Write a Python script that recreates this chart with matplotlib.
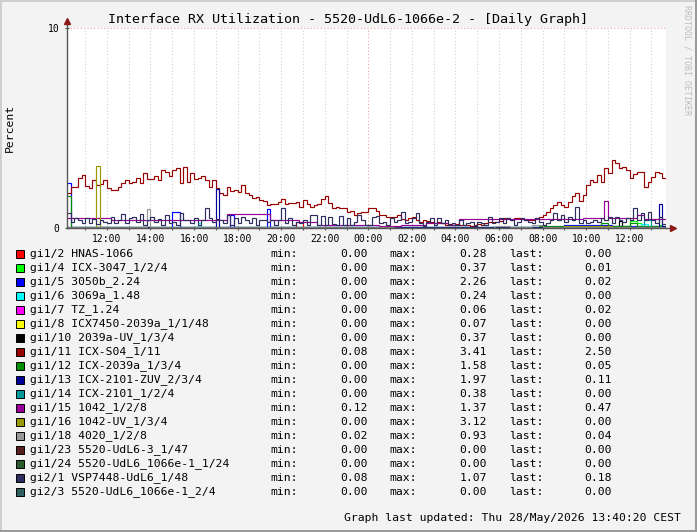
import numpy as np
import matplotlib
matplotlib.use('Agg')
import matplotlib.pyplot as plt
from matplotlib.patches import Rectangle

# ---------------- data ----------------
T0 = 10 + 10 / 60.0          # first sample: 10:10 (hours since day-1 midnight)
STEP = 1 / 6.0               # 10 minutes
NSTEP = 165
T_END = T0 + NSTEP * STEP    # 13:40 next day

names = ['gi1/2 HNAS-1066', 'gi1/4 ICX-3047_1/2/4', 'gi1/5 3050b_2.24', 'gi1/6 3069a_1.48',
         'gi1/7 TZ_1.24', 'gi1/8 ICX7450-2039a_1/1/48', 'gi1/10 2039a-UV_1/3/4',
         'gi1/11 ICX-S04_1/11', 'gi1/12 ICX-2039a_1/3/4', 'gi1/13 ICX-2101-ZUV_2/3/4',
         'gi1/14 ICX-2101_1/2/4', 'gi1/15 1042_1/2/8', 'gi1/16 1042-UV_1/3/4',
         'gi1/18 4020_1/2/8', 'gi1/23 5520-UdL6-3_1/47', 'gi1/24 5520-UdL6_1066e-1_1/24',
         'gi2/1 VSP7448-UdL6_1/48', 'gi2/3 5520-UdL6_1066e-1_2/4']
colors = ['#FF0000', '#00FF00', '#0000FF', '#00FFFF', '#FF00FF', '#FFFF00', '#000000',
          '#990000', '#008F00', '#000099', '#009999', '#990099', '#999900', '#999999',
          '#5A1E1E', '#2D5A2D', '#2D2D5F', '#2D5F5F']
mins = ['0.00', '0.00', '0.00', '0.00', '0.00', '0.00', '0.00', '0.08', '0.00', '0.00',
        '0.00', '0.12', '0.00', '0.02', '0.00', '0.00', '0.08', '0.00']
maxs = ['0.28', '0.37', '2.26', '0.24', '0.06', '0.07', '0.37', '3.41', '1.58', '1.97',
        '0.38', '1.37', '3.12', '0.93', '0.00', '0.00', '1.07', '0.00']
lasts = ['0.00', '0.01', '0.02', '0.00', '0.02', '0.00', '0.00', '2.50', '0.05', '0.11',
         '0.00', '0.47', '0.00', '0.04', '0.00', '0.00', '0.18', '0.00']

# full 10-minute series
red_vals = [1.75, 2.05, 2.05, 2.5, 2.65, 2.1, 2.0, 2.4, 2.15, 2.2, 2.4, 2.0, 1.9, 1.9, 2.05,
            2.25, 2.4, 2.25, 2.3, 2.5, 2.25, 2.75, 2.45, 2.45, 2.6, 2.4, 2.9, 2.8, 2.6,
            2.9, 3.0, 2.25, 3.05, 2.3, 2.75, 2.45, 2.5, 2.6, 2.4, 2.05, 2.4, 2.0, 1.75, 1.65,
            2.05, 1.85, 1.9, 1.8, 2.15, 1.75, 1.65, 1.5, 1.55, 1.4, 1.35, 1.15,
            1.2, 1.2, 1.3, 1.45, 1.2, 1.25, 1.25, 1.3, 1.05, 1.4, 1.2, 1.05, 1.15, 1.2, 1.45,
            1.6, 1.25, 1.0, 1.05, 1.0, 1.0, 0.8, 0.85, 0.65, 0.75, 0.8, 0.78,
            0.98, 0.98, 0.85, 0.65, 0.65, 0.57, 0.57, 0.57, 0.65, 0.45, 0.4, 0.48, 0.55, 0.4,
            0.32, 0.4, 0.35, 0.3, 0.25, 0.3, 0.23, 0.15, 0.2, 0.15, 0.2, 0.15, 0.15,
            0.15, 0.08, 0.15, 0.2, 0.15, 0.25, 0.3, 0.3, 0.3, 0.35, 0.48, 0.48, 0.4, 0.48,
            0.48, 0.45, 0.4, 0.4, 0.4, 0.48, 0.57, 0.65, 0.8, 0.98, 1.15, 1.32, 1.15, 1.07,
            1.3, 1.6, 1.73, 1.35, 1.65, 2.15, 2.4, 2.3, 2.65, 2.32, 2.98, 2.73, 3.41, 3.23,
            2.98, 3.07, 2.9, 2.48, 2.7, 2.82, 2.82, 2.07, 2.3, 2.55, 2.82, 2.73, 2.5]
navy_vals = [0.73, 0.3, 0.5, 0.4, 0.25, 0.5, 0.23, 0.45, 0.2, 0.4, 0.3, 0.23, 0.55, 0.23,
             0.4, 0.68, 0.23, 0.5, 0.57, 0.3, 0.68, 0.15, 0.4, 0.55, 0.3, 0.45, 0.15, 0.65,
             0.25, 0.3, 0.15, 0.73, 0.4, 0.4, 0.23, 0.48, 0.15, 0.4, 0.98, 0.48, 0.32, 0.45,
             0.4, 0.23, 0.65, 0.15, 0.48, 0.23, 0.57, 0.4, 0.23, 0.48, 0.15, 0.4, 0.4, 0.3,
             0.4, 0.15, 0.4, 0.98, 0.23, 0.5, 0.15, 0.32, 0.23, 0.4, 0.15, 0.65, 0.65, 0.15,
             0.6, 0.15, 0.55, 0.2, 0.15, 0.6, 0.15, 0.5, 0.15, 0.3, 0.65, 0.4, 0.15,
             0.15, 0.57, 0.62, 0.23, 0.32, 0.15, 0.48, 0.32, 0.4, 0.8, 0.23, 0.32, 0.48, 0.73,
             0.23, 0.08, 0.32, 0.5, 0.15, 0.48, 0.23, 0.4, 0.15, 0.23, 0.15, 0.4, 0.15,
             0.23, 0.3, 0.08, 0.3, 0.23, 0.15, 0.57, 0.23, 0.32, 0.48, 0.23, 0.52, 0.4, 0.15,
             0.32, 0.48, 0.4, 0.32, 0.23, 0.52, 0.32, 0.15, 0.23, 0.4, 0.73, 0.4, 0.65, 0.32,
             0.57, 0.4, 1.07, 0.23, 0.4, 0.23, 0.32, 0.4, 0.32, 0.48, 0.4, 0.57, 0.23, 0.57,
             0.4, 0.32, 0.48, 0.4, 0.98, 0.4, 0.73, 0.4, 0.82, 0.4, 0.23, 0.57, 0.18]

# sparse series: (step index where value starts, value)
red2_idx = [0, 63, 65, 120, 121]
red2_val = [0.0, 0.28, 0.0, 0.1, 0.0]
lime_idx = [0, 150, 155, 157, 158, 163, 164]
lime_val = [0.02, 0.1, 0.37, 0.25, 0.05, 0.15, 0.01]
blue_idx = [0, 1, 29, 31, 45, 46, 55, 56, 137, 150, 164]
blue_val = [2.26, 0.05, 0.8, 0.05, 0.65, 0.05, 0.95, 0.05, 0.13, 0.08, 0.02]
cyan_idx = [0, 36, 37, 150, 158, 160, 164]
cyan_val = [0.03, 0.24, 0.03, 0.05, 0.2, 0.05, 0.0]
mag_idx = [0, 90, 91, 164]
mag_val = [0.02, 0.06, 0.02, 0.02]
yel_idx = [0, 140, 141, 164]
yel_val = [0.0, 0.07, 0.0, 0.0]
blk_idx = [0, 152, 153, 164]
blk_val = [0.02, 0.37, 0.02, 0.0]
grn_idx = [0, 1, 130, 147, 149, 155, 157, 164]
grn_val = [1.58, 0.05, 0.1, 0.23, 0.1, 0.25, 0.1, 0.05]
dblue_idx = [0, 41, 42, 163, 164]
dblue_val = [0.05, 1.97, 0.05, 1.2, 0.11]
teal_idx = [0, 159, 161, 164]
teal_val = [0.02, 0.38, 0.05, 0.0]
purp_idx = [0, 12, 44, 56, 64, 69, 86, 92, 99, 105, 108, 120, 142, 148, 149, 157, 159, 164]
purp_val = [0.48, 0.4, 0.68, 0.4, 0.32, 0.15, 0.12, 0.15, 0.23, 0.15, 0.43, 0.45, 0.52,
            1.37, 0.48, 0.65, 0.45, 0.47]
olive_idx = [0, 8, 9, 137, 150, 164]
olive_val = [0.02, 3.12, 0.02, 0.12, 0.05, 0.0]
gray_idx = [0, 22, 23, 60, 90, 118, 122, 128, 131, 164]
gray_val = [0.05, 0.93, 0.05, 0.03, 0.02, 0.12, 0.05, 0.15, 0.05, 0.04]
zero_idx = [0]
zero_val = [0.0]

series = [(red2_idx, red2_val), (lime_idx, lime_val), (blue_idx, blue_val),
          (cyan_idx, cyan_val), (mag_idx, mag_val), (yel_idx, yel_val), (blk_idx, blk_val),
          (list(range(NSTEP)), red_vals), (grn_idx, grn_val), (dblue_idx, dblue_val),
          (teal_idx, teal_val), (purp_idx, purp_val), (olive_idx, olive_val),
          (gray_idx, gray_val), (zero_idx, zero_val), (zero_idx, zero_val),
          (list(range(NSTEP)), navy_vals), (zero_idx, zero_val)]

title = 'Interface RX Utilization - 5520-UdL6-1066e-2 - [Daily Graph]'
xtick_hours = list(range(12, 37, 2))
xtick_labels = ['%02d:00' % (h % 24) for h in xtick_hours]

# ---------------- figure ----------------
W, H = 697, 532
MONO = 'DejaVu Sans Mono'
fig = plt.figure(figsize=(W / 100, H / 100), dpi=100)
fig.patch.set_facecolor('#F3F3F3')

def fx(px):
    return px / W

def fy(py):
    return 1 - py / H

# frame shading
fig.add_artist(Rectangle((0, fy(2)), 1, 2 / H, transform=fig.transFigure, color='#CFCFCF', lw=0))
fig.add_artist(Rectangle((0, 0), 2 / W, 1, transform=fig.transFigure, color='#CFCFCF', lw=0))
fig.add_artist(Rectangle((0, 0), 1, 2 / H, transform=fig.transFigure, color='#9A9A9A', lw=0))
fig.add_artist(Rectangle((1 - 2 / W, 0), 2 / W, 1, transform=fig.transFigure, color='#9A9A9A', lw=0))

ax = fig.add_axes([fx(67), fy(228), 599 / W, 200 / H])
ax.set_facecolor('white')
ax.set_xlim(T0, T_END)
ax.set_ylim(0, 10)

# grid
for h in range(11, 38):
    if h == 24:
        continue
    ax.axvline(h, color='#D0D0D0', lw=0.8, ls=(0, (1, 2)), zorder=0)
ax.axvline(24, color='#F0A0A0', lw=0.8, ls=(0, (1, 2)), zorder=0)
ax.axhline(10, color='#F0A0A0', lw=0.8, ls=(0, (1, 2)), zorder=0)

for (idx, vals), c in zip(series, colors):
    t = T0 + np.asarray(idx, dtype=float) * STEP
    t = np.append(t, T_END)
    v = np.append(np.asarray(vals, dtype=float), vals[-1])
    ax.plot(t, v, drawstyle='steps-post', color=c, lw=0.85, solid_joinstyle='miter')

for s in ['top', 'right']:
    ax.spines[s].set_visible(False)
for s in ['left', 'bottom']:
    ax.spines[s].set_color('#555555')
    ax.spines[s].set_linewidth(1.0)

ax.set_xticks(xtick_hours)
ax.set_xticklabels(xtick_labels, family=MONO, fontsize=7)
ax.set_xticks(range(11, 38), minor=True)
ax.set_yticks([0, 10])
ax.set_yticklabels(['0', '10'], family=MONO, fontsize=7)
ax.tick_params(axis='both', which='both', direction='inout', length=3, color='#555555', width=0.8)
ax.tick_params(axis='x', pad=3)
ax.tick_params(axis='y', pad=4)

# axis arrows
ax.plot([1.0, 1.01], [0, 0], transform=ax.transAxes, color='#555555', lw=1.0, clip_on=False)
ax.plot([1.012], [0], marker='>', ms=4, color='#8B1A1A', transform=ax.transAxes, clip_on=False)
ax.plot([0, 0], [1.0, 1.035], transform=ax.transAxes, color='#555555', lw=1.0, clip_on=False)
ax.plot([0], [1.035], marker='^', ms=4, color='#8B1A1A', transform=ax.transAxes, clip_on=False)

fig.text(fx(10), fy(128), 'Percent', rotation=90, ha='center', va='center', family=MONO, fontsize=8.2)
fig.text(fx(348), fy(19), title, ha='center', va='center', family=MONO, fontsize=9.6)
fig.text(fx(687), fy(60), 'RRDTOOL / TOBI OETIKER', rotation=270, ha='center', va='center',
         family=MONO, fontsize=6, color='#BDBDBD')

# legend
for k, (nm, c, mn, mx, ls) in enumerate(zip(names, colors, mins, maxs, lasts)):
    y = 254 + 14 * k
    fig.add_artist(Rectangle((fx(15.5), fy(y + 4)), 8 / W, 8 / H, transform=fig.transFigure,
                             facecolor=c, edgecolor='black', lw=0.7))
    kw = dict(family=MONO, fontsize=8.2, va='center')
    fig.text(fx(30), fy(y), nm, ha='left', **kw)
    fig.text(fx(270), fy(y), 'min:', ha='left', **kw)
    fig.text(fx(368), fy(y), mn, ha='right', **kw)
    fig.text(fx(389), fy(y), 'max:', ha='left', **kw)
    fig.text(fx(487), fy(y), mx, ha='right', **kw)
    fig.text(fx(509), fy(y), 'last:', ha='left', **kw)
    fig.text(fx(612), fy(y), ls, ha='right', **kw)

fig.text(fx(681), fy(518), 'Graph last updated: Thu 28/May/2026 13:40:20 CEST', ha='right',
         va='center', family=MONO, fontsize=8.2)

fig.savefig('out.png', dpi=100, facecolor=fig.get_facecolor())
